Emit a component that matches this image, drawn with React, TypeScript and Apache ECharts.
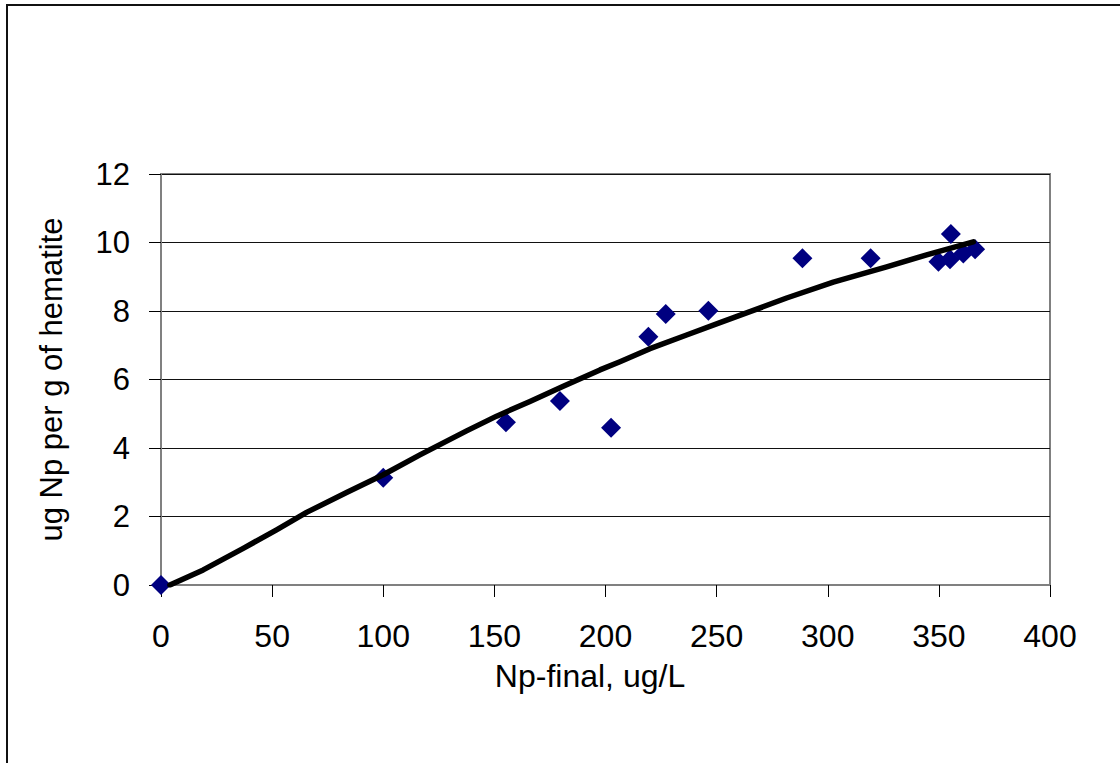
import React, { useEffect, useRef } from "react";
import * as echarts from "echarts";

// Measured points: Np-final (ug/L) vs ug Np per g of hematite
const npFinal = [0, 100, 155.2, 179.5, 202.5, 219.3, 227.1, 246.3, 288.6, 319.3, 349.8, 355.4, 355, 361, 366.3];
const npSorbed = [0, 3.13, 4.75, 5.37, 4.59, 7.25, 7.91, 8.01, 9.54, 9.54, 9.44, 10.25, 9.51, 9.68, 9.8];

// Fitted curve
const fitX = [4, 19, 37, 52, 65.5, 83.5, 100, 116.5, 137.5, 151, 166, 181, 197.5, 206.5, 220, 236.5, 251.5, 265, 281.5, 302.5, 326.5, 344.5, 365.5];
const fitY = [0, 0.44, 1.07, 1.61, 2.12, 2.7, 3.22, 3.8, 4.5, 4.93, 5.36, 5.8, 6.28, 6.52, 6.9, 7.3, 7.66, 7.98, 8.38, 8.84, 9.29, 9.64, 10.02];

const xTicks = { min: 0, max: 400, interval: 50 };
const yTicks = { min: 0, max: 12, interval: 2 };

const FONT = "'Liberation Sans', Arial, sans-serif";

export default function App() {
  const ref = useRef<HTMLDivElement>(null);
  useEffect(() => {
    document.body.style.margin = "0";
    if (!ref.current) return;
    const chart = echarts.init(ref.current, undefined, { renderer: "svg" });
    chart.setOption({
      animation: false,
      backgroundColor: "#ffffff",
      textStyle: { fontFamily: FONT },
      graphic: [
        {
          type: "rect",
          shape: { x: 7, y: 5, width: 1300, height: 1000 },
          style: { fill: "none", stroke: "#111", lineWidth: 2 },
          silent: true,
        },
      ],
      grid: {
        left: 161,
        right: 70,
        top: 174,
        bottom: 178,
        show: true,
        borderColor: "#808080",
        borderWidth: 2,
        backgroundColor: "transparent",
      },
      xAxis: {
        type: "value",
        min: xTicks.min,
        max: xTicks.max,
        interval: xTicks.interval,
        name: "Np-final, ug/L",
        nameLocation: "middle",
        nameGap: 75,
        nameTextStyle: { fontSize: 32, color: "#000", fontFamily: FONT, padding: [0, 31, 0, 0] },
        axisLine: { show: true, lineStyle: { color: "#808080", width: 2 } },
        axisTick: { show: true, inside: false, length: 12, lineStyle: { color: "#000", width: 1 } },
        axisLabel: { margin: 35, fontSize: 32, color: "#000", fontFamily: FONT },
        splitLine: { show: false },
      },
      yAxis: {
        type: "value",
        min: yTicks.min,
        max: yTicks.max,
        interval: yTicks.interval,
        name: "ug Np per g of hematite",
        nameLocation: "middle",
        nameGap: 94,
        nameTextStyle: { fontSize: 31, color: "#000", fontFamily: FONT },
        axisLine: { show: true, lineStyle: { color: "#808080", width: 2 } },
        axisTick: { show: true, inside: false, length: 12, lineStyle: { color: "#000", width: 1 } },
        axisLabel: { margin: 31, fontSize: 31, color: "#000", fontFamily: FONT },
        splitLine: { show: true, lineStyle: { color: "#111", width: 1 } },
      },
      series: [
        {
          type: "scatter",
          data: npFinal.map((x, i) => [x, npSorbed[i]]),
          symbol: "diamond",
          symbolSize: 20,
          itemStyle: { color: "#000080", opacity: 1 },
          z: 2,
        },
        {
          type: "line",
          data: fitX.map((x, i) => [x, fitY[i]]),
          showSymbol: false,
          symbol: "none",
          smooth: false,
          lineStyle: { color: "#000", width: 5.5, cap: "round", join: "round" },
          z: 3,
        },
      ],
    });
    return () => chart.dispose();
  }, []);
  return <div ref={ref} style={{ width: 1120, height: 763 }} />;
}
